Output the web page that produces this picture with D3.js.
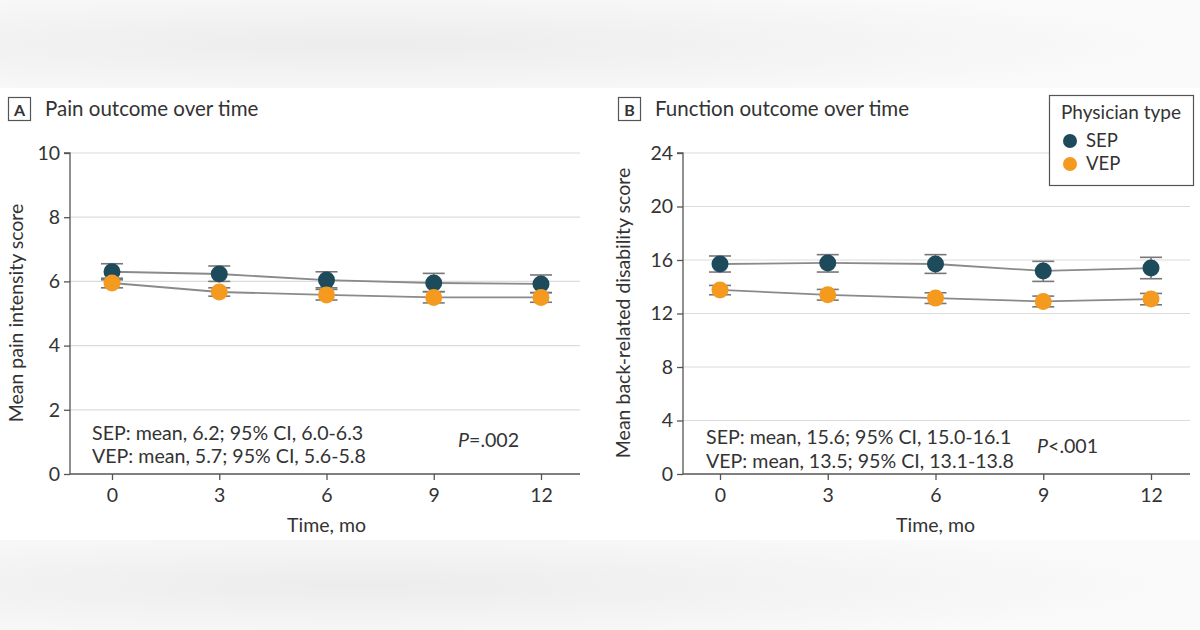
<!DOCTYPE html>
<html><head><meta charset="utf-8">
<script src="https://cdn.jsdelivr.net/npm/d3@7"></script>
<style>
html,body{margin:0;padding:0;}
body{width:1200px;height:630px;overflow:hidden;}
svg text{font-family:"Lato","Liberation Sans",sans-serif;fill:#333;}
</style></head>
<body>
<svg id="c" width="1200" height="630"></svg>
<script>
const months = [0, 3, 6, 9, 12];
const seriesNames = ["SEP", "VEP"];
// Panel A: pain intensity
const painSEP = [6.3, 6.23, 6.04, 5.95, 5.92];
const painSEPlo = [6.05, 6.0, 5.8, 5.68, 5.65];
const painSEPhi = [6.55, 6.48, 6.3, 6.25, 6.2];
const painVEP = [5.95, 5.67, 5.58, 5.5, 5.5];
const painVEPlo = [5.8, 5.54, 5.42, 5.33, 5.35];
const painVEPhi = [6.1, 5.8, 5.75, 5.68, 5.65];
const painTicks = [0, 2, 4, 6, 8, 10];
// Panel B: back-related disability
const funcSEP = [15.7, 15.78, 15.7, 15.18, 15.4];
const funcSEPlo = [15.1, 15.1, 15.0, 14.4, 14.6];
const funcSEPhi = [16.3, 16.4, 16.4, 15.9, 16.2];
const funcVEP = [13.76, 13.4, 13.15, 12.9, 13.08];
const funcVEPlo = [13.4, 13.0, 12.75, 12.5, 12.65];
const funcVEPhi = [14.1, 13.8, 13.55, 13.3, 13.5];
const funcTicks = [0, 4, 8, 12, 16, 20, 24];

const colors = {SEP: "#1e4b5b", VEP: "#f49a1f"};

const svg = d3.select("#c");
// background
const defs = svg.append("defs");
const g1 = defs.append("radialGradient").attr("id","bgA").attr("cx","0.3").attr("cy","0.5").attr("r","0.7");
g1.append("stop").attr("offset","0%").attr("stop-color","#ececec");
g1.append("stop").attr("offset","100%").attr("stop-color","#fafafa");
svg.append("rect").attr("width",1200).attr("height",630).attr("fill","#f3f3f3");
svg.append("rect").attr("x",0).attr("y",0).attr("width",1200).attr("height",88).attr("fill","url(#bgA)");
svg.append("rect").attr("x",0).attr("y",540).attr("width",1200).attr("height",90).attr("fill","url(#bgA)");
svg.append("rect").attr("x",0).attr("y",88).attr("width",1200).attr("height",452).attr("fill","#ffffff");

function panel(opt){
  const g = svg.append("g");
  const x = d3.scaleLinear().domain([0,12]).range([opt.x0, opt.x12]);
  const y = d3.scaleLinear().domain([0, opt.ymax]).range([474, 153]);
  // letter box
  g.append("rect").attr("x",opt.boxX+0.5).attr("y",97.5).attr("width",22).attr("height",23)
    .attr("fill","#fff").attr("stroke","#555").attr("stroke-width",1.2);
  g.append("text").attr("x",opt.boxX+11.5).attr("y",115.5).attr("text-anchor","middle")
    .attr("font-size",16).attr("font-weight","bold").attr("fill","#222").text(opt.letter);
  g.append("text").attr("x",opt.boxX+37).attr("y",116).attr("font-size",20.5).attr("fill","#333").text(opt.title);
  // grid
  g.append("g").selectAll("line").data(opt.ticks.filter(d=>d>0)).join("line")
    .attr("x1",opt.axisX).attr("x2",opt.right).attr("y1",d=>y(d)).attr("y2",d=>y(d))
    .attr("stroke","#dcdcdc").attr("stroke-width",1.2);
  // y axis
  const ya = g.append("g").attr("transform",`translate(${opt.axisX},0)`)
    .call(d3.axisLeft(y).tickValues(opt.ticks).tickSize(6).tickPadding(4));
  ya.select(".domain").attr("stroke","#555").attr("stroke-width",1.3).attr("d",`M-6,${y(opt.ymax)}H0V${y(0)}`);
  ya.selectAll(".tick line").attr("stroke","#555").attr("stroke-width",1.3);
  ya.selectAll(".tick text").attr("font-size",19.5).attr("fill","#333").attr("font-family",null);
  // x axis
  const xa = g.append("g").attr("transform","translate(0,474)")
    .call(d3.axisBottom(x).tickValues(months).tickSize(6).tickPadding(8));
  xa.select(".domain").attr("stroke","#555").attr("stroke-width",1.3).attr("d",`M${opt.axisX},0H${opt.right}`);
  xa.selectAll(".tick line").attr("stroke","#555").attr("stroke-width",1.3);
  xa.selectAll(".tick text").attr("font-size",19.5).attr("fill","#333").attr("font-family",null);
  // axis titles
  g.append("text").attr("transform",`translate(${opt.ylabX},${313}) rotate(-90)`).attr("text-anchor","middle")
    .attr("font-size",19.5).attr("fill","#333").text(opt.ylab);
  g.append("text").attr("x",(opt.x0+opt.x12)/2).attr("y",532).attr("text-anchor","middle")
    .attr("font-size",19.5).attr("fill","#333").text("Time, mo");
  // series
  opt.series.forEach(s=>{
    const pts = months.map((m,i)=>({m, v:s.v[i], lo:s.lo[i], hi:s.hi[i]}));
    g.append("path").datum(pts).attr("fill","none").attr("stroke","#8a8a8a").attr("stroke-width",1.8)
      .attr("d", d3.line().x(d=>x(d.m)).y(d=>y(d.v)));
    const eb = g.append("g");
    pts.forEach(d=>{
      const cx = x(d.m);
      eb.append("line").attr("x1",cx).attr("x2",cx).attr("y1",y(d.lo)).attr("y2",y(d.hi)).attr("stroke","#666").attr("stroke-width",1.4);
      [d.lo,d.hi].forEach(v=>eb.append("line").attr("x1",cx-11).attr("x2",cx+11).attr("y1",y(v)).attr("y2",y(v)).attr("stroke","#777").attr("stroke-width",1.6));
    });
    g.append("g").selectAll("circle").data(pts).join("circle")
      .attr("cx",d=>x(d.m)).attr("cy",d=>y(d.v)).attr("r",8.5).attr("fill",colors[s.name]);
  });
  // annotations
  g.append("text").attr("x",opt.annX).attr("y",opt.annY1).attr("font-size",19.6).text(opt.ann1);
  g.append("text").attr("x",opt.annX).attr("y",opt.annY2).attr("font-size",19.6).text(opt.ann2);
  const p = g.append("text").attr("x",opt.pX).attr("y",opt.pY).attr("font-size",19.6);
  p.append("tspan").attr("font-style","italic").text("P");
  p.append("tspan").text(opt.pText);
}

panel({letter:"A", title:"Pain outcome over time", boxX:8, axisX:70, right:580, x0:112, x12:541,
  ymax:10, ticks:painTicks, ylab:"Mean pain intensity score", ylabX:23,
  series:[{name:"SEP", v:painSEP, lo:painSEPlo, hi:painSEPhi},{name:"VEP", v:painVEP, lo:painVEPlo, hi:painVEPhi}],
  annX:92, annY1:440, annY2:463, ann1:"SEP: mean, 6.2; 95% CI, 6.0-6.3", ann2:"VEP: mean, 5.7; 95% CI, 5.6-5.8",
  pX:458, pY:447, pText:"=.002"});

panel({letter:"B", title:"Function outcome over time", boxX:618, axisX:683, right:1190, x0:720, x12:1151,
  ymax:24, ticks:funcTicks, ylab:"Mean back-related disability score", ylabX:630,
  series:[{name:"SEP", v:funcSEP, lo:funcSEPlo, hi:funcSEPhi},{name:"VEP", v:funcVEP, lo:funcVEPlo, hi:funcVEPhi}],
  annX:706, annY1:444, annY2:468, ann1:"SEP: mean, 15.6; 95% CI, 15.0-16.1", ann2:"VEP: mean, 13.5; 95% CI, 13.1-13.8",
  pX:1037, pY:453, pText:"<.001"});

// legend
const lg = svg.append("g");
lg.append("rect").attr("x",1049.5).attr("y",95.5).attr("width",144).attr("height",90).attr("fill","#fff").attr("stroke","#555").attr("stroke-width",1.2);
lg.append("text").attr("x",1061).attr("y",119).attr("font-size",19).text("Physician type");
lg.selectAll("circle.l").data(seriesNames).join("circle").attr("class","l")
  .attr("cx",1070).attr("cy",(d,i)=>141+i*23).attr("r",7).attr("fill",d=>colors[d]);
lg.selectAll("text.l").data(seriesNames).join("text").attr("class","l")
  .attr("x",1086).attr("y",(d,i)=>147+i*23).attr("font-size",18.5).text(d=>d);
</script>
</body></html>
